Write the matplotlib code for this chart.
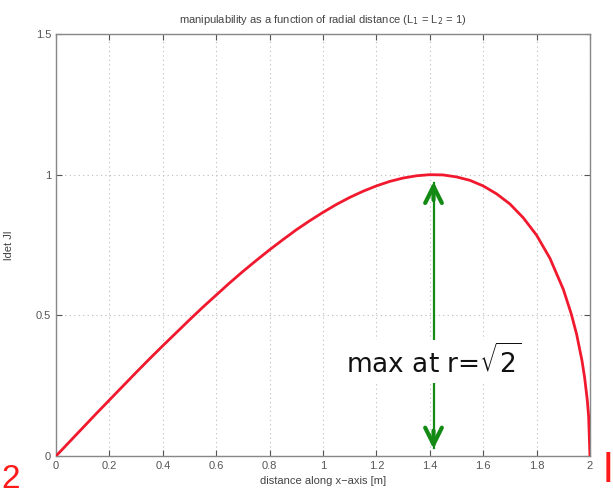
import matplotlib
matplotlib.use("Agg")
import matplotlib.pyplot as plt

plt.rcParams['font.family'] = ['Liberation Sans', 'DejaVu Sans']
plt.rcParams['mathtext.fontset'] = 'dejavusans'

# values
r = [0, 0.05, 0.1, 0.15, 0.2, 0.25, 0.3, 0.35, 0.4, 0.45, 0.5, 0.55, 0.6,
     0.65, 0.7, 0.75, 0.8, 0.85, 0.9, 0.95, 1.0, 1.05, 1.1, 1.15, 1.2,
     1.25, 1.3, 1.35, 1.4, 1.45, 1.5, 1.55, 1.6, 1.65, 1.7, 1.75, 1.8,
     1.85, 1.9, 1.93, 1.95, 1.97, 1.98, 1.99, 1.995, 2.0]
detj = [0, 0.05, 0.10, 0.15, 0.199, 0.248, 0.297, 0.345, 0.392, 0.438,
        0.484, 0.529, 0.572, 0.615, 0.656, 0.695, 0.733, 0.769, 0.804,
        0.836, 0.866, 0.894, 0.919, 0.941, 0.96, 0.976, 0.988, 0.996, 1.0,
        0.999, 0.992, 0.98, 0.96, 0.932, 0.896, 0.847, 0.785, 0.703, 0.593,
        0.505, 0.433, 0.34, 0.279, 0.199, 0.141, 0.0]
r_max = 1.414
xticks = [0, 0.2, 0.4, 0.6, 0.8, 1, 1.2, 1.4, 1.6, 1.8, 2]
yticks = [0, 0.5, 1, 1.5]

fig = plt.figure(figsize=(6.13, 5), dpi=100)
ax = fig.add_axes([0.0914, 0.088, 0.871, 0.844])

ax.plot(r, detj, color='#f0192e', lw=2, zorder=3)

ax.set_xlim(0, 2)
ax.set_ylim(0, 1.5)
ax.set_xticks(xticks)
ax.set_xticklabels(['0', '0.2', '0.4', '0.6', '0.8', '1', '1.2', '1.4', '1.6', '1.8', '2'])
ax.set_yticks(yticks)
ax.set_yticklabels(['0', '0.5', '1', '1.5'])
ax.tick_params(direction='in', top=True, right=True, labelsize=8,
               colors='#555555', length=4, width=0.8)
for s in ax.spines.values():
    s.set_color('#888888')
    s.set_linewidth(1)
ax.grid(True, ls=(0, (1, 3)), color='#bbbbbb', lw=0.8)

ax.set_title('manipulability as a function of radial distance (L$_1$ = L$_2$ = 1)',
             fontsize=8, color='#444444', pad=8)
ax.set_xlabel('distance along x\u2212axis [m]', fontsize=8, color='#444444', labelpad=4)
ax.set_ylabel('ldet Jl', fontsize=8, color='#444444', labelpad=16)

# green double arrow: thin shaft, heavy open heads
green = '#138a13'
ax.plot([r_max, r_max], [0.03, 0.97], color=green, lw=1.6, zorder=4)
ax.annotate('', xy=(r_max, 0.985), xytext=(r_max, 0.9),
            arrowprops=dict(arrowstyle='->', color=green, lw=3,
                            mutation_scale=30), zorder=4)
ax.annotate('', xy=(r_max, 0.015), xytext=(r_max, 0.1),
            arrowprops=dict(arrowstyle='->', color=green, lw=3,
                            mutation_scale=30), zorder=4)
ax.text(r_max, 0.335, r'max at r=$\sqrt{2}$', fontsize=19, color='#111111',
        ha='center', va='center', family=['DejaVu Sans'],
        bbox=dict(facecolor='white', edgecolor='none', pad=3), zorder=5)

# cropped slide fragments
fig.text(0.002, 0.042, '2', fontsize=24, color='#ff1a1a', ha='left', va='center')
fig.text(0.985, 0.065, '|', fontsize=22, color='#ff1a1a', ha='left', va='center',
         fontweight='bold')

fig.savefig('out.png', dpi=100)
